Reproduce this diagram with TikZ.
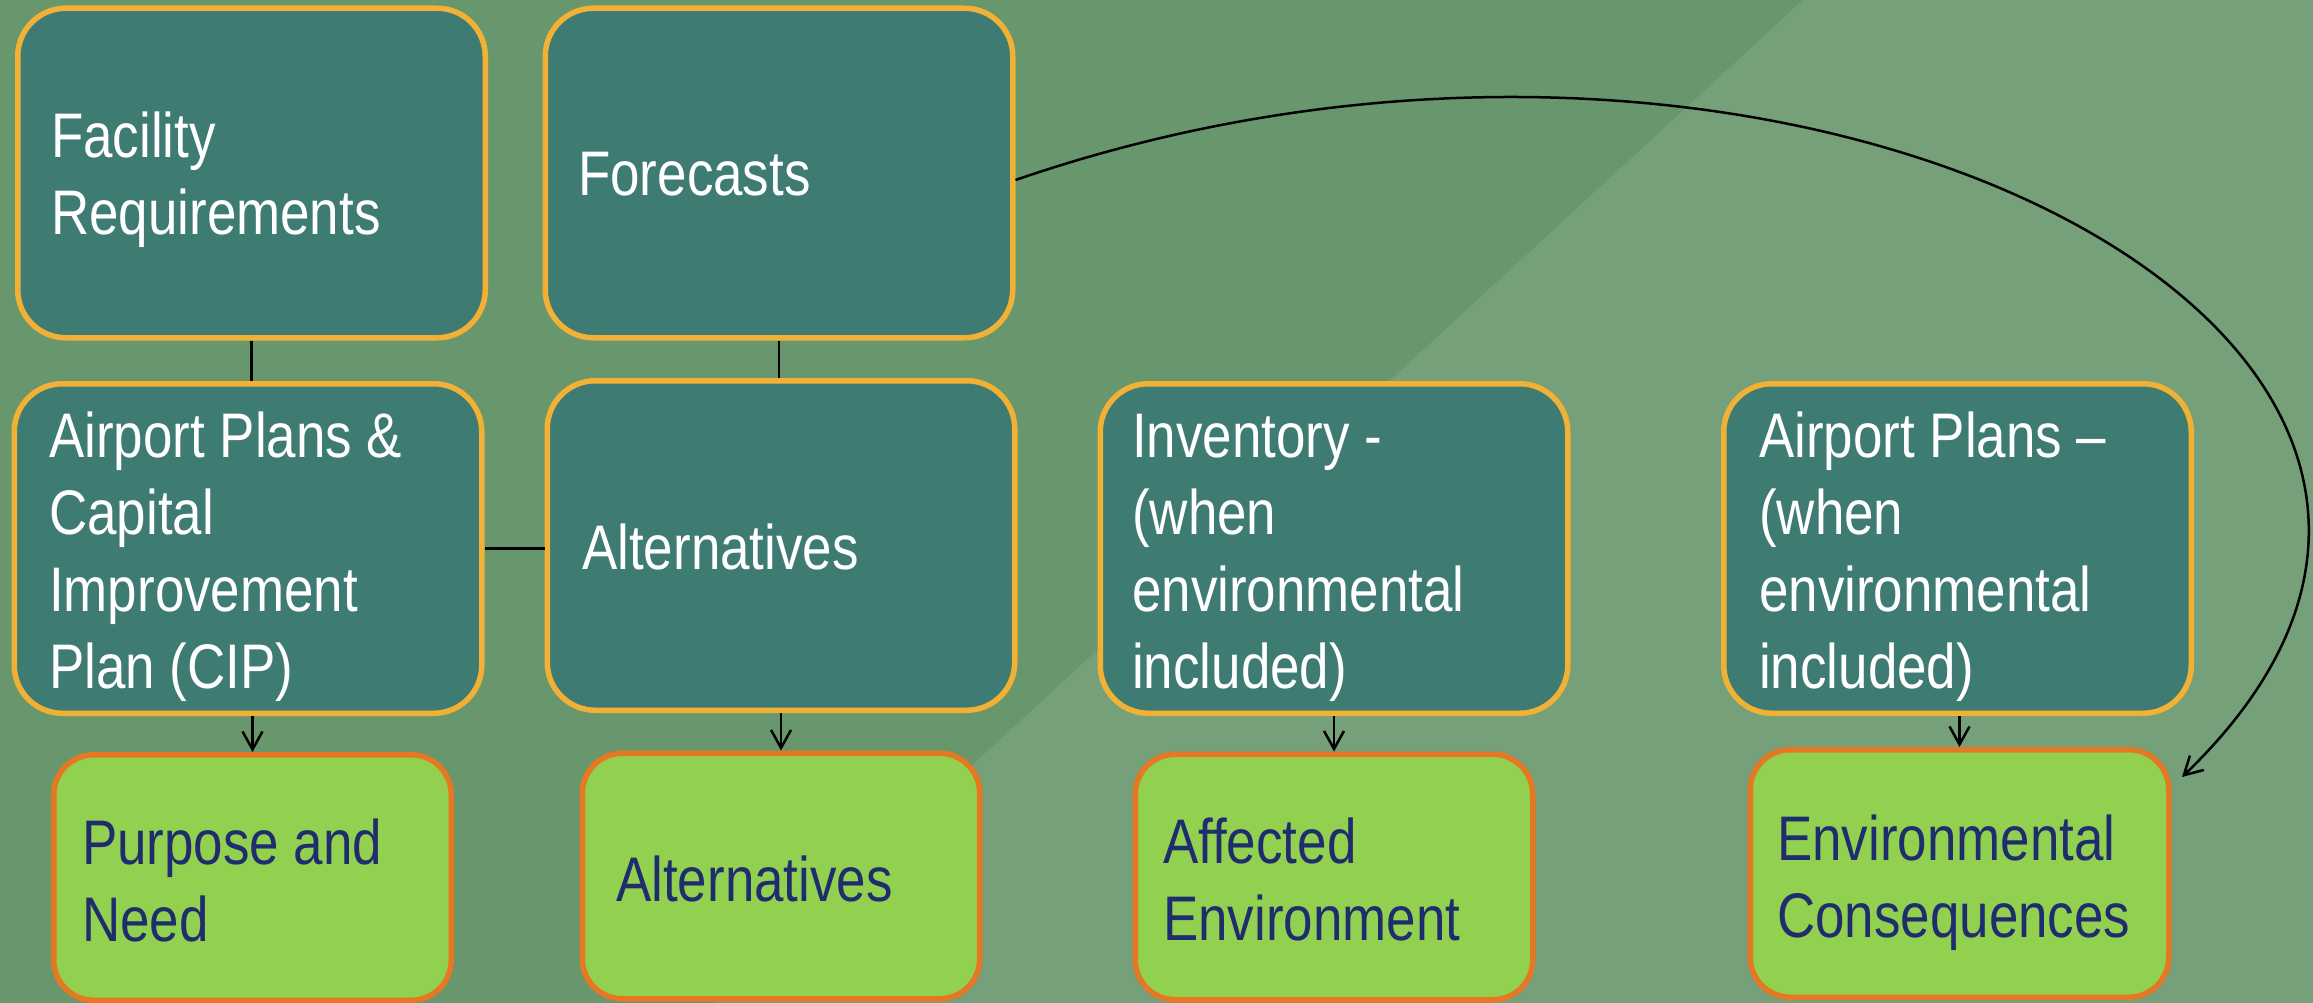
\documentclass[tikz,border=0pt]{standalone}
\usepackage{fontspec}
\setmainfont{Liberation Sans}[FakeStretch=0.84]
\usetikzlibrary{arrows.meta}
\definecolor{bgdark}{RGB}{104,150,109}
\definecolor{bglight}{RGB}{117,160,122}
\definecolor{tealfill}{RGB}{62,123,115}
\definecolor{goldline}{RGB}{242,177,52}
\definecolor{limefill}{RGB}{146,208,80}
\definecolor{orangeline}{RGB}{230,120,35}
\definecolor{navytext}{RGB}{31,45,110}
\tikzset{
  tealbox/.style={draw=goldline, fill=tealfill, line width=5.5pt, rounded corners=48pt,
    minimum width=467.5pt, minimum height=329.5pt, inner sep=0pt},
  limebox/.style={draw=orangeline, fill=limefill, line width=5.5pt, rounded corners=40pt,
    minimum width=397.5pt, minimum height=245.5pt, inner sep=0pt},
  boxtext/.style={anchor=base west, inner sep=0pt, text width=440pt, align=flush left,
    font=\fontsize{63}{77}\selectfont},
  whitetext/.style={boxtext, text=white},
  navytxt/.style={boxtext, text=navytext},
  link/.style={draw=black, line width=2.5pt},
  arrowlink/.style={link, -{Straight Barb[length=18pt,width=20pt]}}
}
\begin{document}
\begin{tikzpicture}[x=1pt,y=-1pt]
\useasboundingbox (0,0) rectangle (2313,1003);
\clip (0,0) rectangle (2313,1003);
\fill[bgdark] (0,0) rectangle (2313,1003);
\fill[bglight] (1803,0) -- (2313,0) -- (2313,1003) -- (714,1003) -- cycle;

% upper boxes
\node[tealbox] (fac)  at (251.5,173) {};
\node[tealbox] (fc)   at (779,173) {};
\node[tealbox] (cip)  at (248,548.5) {};
\node[tealbox] (altt) at (781,545.5) {};
\node[tealbox] (inv)  at (1334,548.5) {};
\node[tealbox] (apl)  at (1957.5,548.5) {};

% lower boxes
\node[limebox] (pur)  at (252.5,877.5) {};
\node[limebox] (altg) at (781,876) {};
\node[limebox] (aff)  at (1334,877) {};
\node[limebox, minimum width=418.5pt, minimum height=247.5pt] (env) at (1959.5,873.5) {};

% texts
\node[whitetext] (facT)  at (51,158)   {Facility\\Requirements};
\node[whitetext] (fcT)   at (578,196)  {Forecasts};
\node[whitetext] (cipT)  at (49,457)   {Airport Plans \&\\Capital\\Improvement\\Plan (CIP)};
\node[whitetext] (alttT) at (582,569)  {Alternatives};
\node[whitetext] (invT)  at (1132,457) {Inventory -\\(when\\environmental\\included)};
\node[whitetext] (aplT)  at (1759,457) {Airport Plans –\\(when\\environmental\\included)};
\node[navytxt] (purT)  at (82,864)   {Purpose and\\Need};
\node[navytxt] (altgT) at (616,901)  {Alternatives};
\node[navytxt] (affT)  at (1163,863) {Affected\\Environment};
\node[navytxt] (envT)  at (1777,860) {Environmental\\Consequences};

% connectors
\draw[link] (fac.south) -- (fac.south |- cip.north);
\draw[link] (fc.south) -- (fc.south |- altt.north);
\draw[link] (cip.east) -- (cip.east -| altt.west);

\draw[arrowlink] (pur.north |- cip.south) -- (pur.north);
\draw[arrowlink] (altg.north |- altt.south) -- (altg.north);
\draw[arrowlink] (aff.north |- inv.south) -- (aff.north);
\draw[arrowlink] (env.north |- apl.south) -- (env.north);

\coordinate (curveend) at (2182,777);
\draw[arrowlink] ([yshift=-7pt]fc.east) .. controls (1800,-90) and (2628,349) .. (curveend);
\end{tikzpicture}
\end{document}
